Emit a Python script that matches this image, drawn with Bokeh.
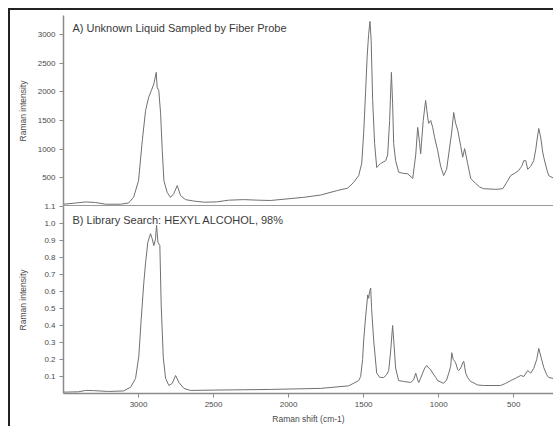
from bokeh.plotting import figure
from bokeh.layouts import column
from bokeh.models import Range1d, FixedTicker, Span, Label, PrintfTickFormatter
from bokeh.embed import file_html
from bokeh.resources import INLINE

# ---- data ----
wn_a = [3500, 3420, 3353, 3287, 3220, 3120, 3067, 3033, 3000, 2975, 2953, 2933,
        2915, 2898, 2882, 2876, 2865, 2853, 2842, 2831, 2809, 2787, 2765, 2742,
        2720, 2687, 2633, 2560, 2480, 2400, 2300, 2200, 2120, 1900, 1787, 1673,
        1607, 1567, 1533, 1513, 1500, 1487, 1477, 1467, 1458, 1450, 1440, 1427,
        1413, 1387, 1353, 1340, 1327, 1315, 1307, 1300, 1287, 1267, 1240, 1207,
        1173, 1153, 1140, 1127, 1120, 1103, 1087, 1073, 1067, 1053, 1040, 1027,
        1007, 987, 967, 947, 933, 913, 900, 887, 873, 853, 840, 827, 807, 787,
        753, 727, 700, 620, 573, 547, 520, 493, 467, 447, 433, 420, 407, 387,
        367, 353, 340, 333, 320, 307, 300, 280, 267, 233]
int_a = [40, 60, 80, 70, 40, 40, 60, 160, 450, 1150, 1675, 1900,
         2020, 2140, 2340, 2080, 2020, 1620, 980, 450, 245, 160, 225, 365,
         190, 120, 95, 75, 80, 110, 120, 110, 105, 160, 200, 280,
         320, 420, 540, 750, 1270, 2000, 2600, 3000, 3230, 2900, 1850, 1100,
         680, 750, 800, 900, 1500, 2340, 1800, 1100, 800, 600, 580, 570,
         490, 900, 1380, 1100, 920, 1500, 1850, 1550, 1450, 1500, 1380, 1200,
         980, 700, 540, 650, 920, 1300, 1640, 1450, 1330, 1050, 860, 1010, 750, 490,
         400, 340, 310, 300, 310, 420, 540, 580, 630, 700, 800, 800, 650, 700,
         800, 1000, 1250, 1360, 1200, 950, 860, 650, 540, 490]

wn_b = [3500, 3400, 3353, 3300, 3200, 3100, 3053, 3020, 2998, 2982, 2965, 2953,
        2938, 2920, 2909, 2898, 2887, 2880, 2871, 2858, 2849, 2835, 2820, 2798,
        2775, 2753, 2731, 2698, 2653, 2500, 2300, 2120, 1787, 1600, 1533, 1520,
        1507, 1500, 1487, 1473, 1467, 1460, 1453, 1447, 1433, 1413, 1393, 1367,
        1347, 1333, 1320, 1307, 1297, 1287, 1267, 1227, 1187, 1167, 1153, 1140,
        1133, 1120, 1107, 1093, 1080, 1067, 1053, 1040, 1020, 1007, 967, 947,
        933, 920, 913, 903, 893, 887, 873, 867, 853, 840, 833, 820, 807, 787,
        773, 740, 700, 587, 553, 520, 487, 453, 433, 407, 387, 367, 347, 333,
        320, 300, 280, 267, 233]
int_b = [0.008, 0.01, 0.018, 0.017, 0.012, 0.015, 0.037, 0.088, 0.22, 0.44, 0.65, 0.77,
         0.89, 0.94, 0.91, 0.87, 0.91, 0.99, 0.89, 0.87, 0.52, 0.21, 0.09, 0.047,
         0.06, 0.106, 0.065, 0.03, 0.018, 0.02, 0.022, 0.024, 0.03, 0.045, 0.076, 0.1,
         0.2, 0.31, 0.45, 0.58, 0.56, 0.6, 0.62, 0.5, 0.31, 0.12, 0.095, 0.094,
         0.11, 0.135, 0.25, 0.40, 0.28, 0.15, 0.076, 0.07, 0.065, 0.08, 0.12, 0.08,
         0.065, 0.09, 0.12, 0.15, 0.165, 0.15, 0.14, 0.12, 0.095, 0.076, 0.06, 0.08,
         0.12, 0.16, 0.24, 0.2, 0.19, 0.18, 0.14, 0.135, 0.15, 0.18, 0.19, 0.12, 0.094, 0.07,
         0.065, 0.05, 0.047, 0.047, 0.06, 0.076, 0.09, 0.106, 0.1, 0.135, 0.12, 0.147, 0.2, 0.265,
         0.22, 0.153, 0.11, 0.094, 0.088]

x_ticks = [3000, 2500, 2000, 1500, 1000, 500]
top_ticks = [500, 1000, 1500, 2000, 2500, 3000]
bottom_ticks = [0.1, 0.2, 0.3, 0.4, 0.5, 0.6, 0.7, 0.8, 0.9, 1.0, 1.1]
title_a = "A) Unknown Liquid Sampled by Fiber Probe"
title_b = "B) Library Search: HEXYL ALCOHOL, 98%"
x_label = "Raman shift (cm-1)"
y_label = "Raman intensity"

FONT = "Liberation Sans"
LINE = "#707070"
AXIS = "#8a8a8a"
TXT = "#4a4a4a"

xr = Range1d(3500, 235)


def style_axis(ax, size="8px"):
    ax.axis_line_color = AXIS
    ax.axis_line_width = 1.5
    ax.major_tick_line_color = AXIS
    ax.major_tick_out = 4
    ax.major_tick_in = 0
    ax.minor_tick_line_color = None
    ax.major_label_text_font = FONT
    ax.major_label_text_font_size = size
    ax.major_label_text_color = TXT
    ax.major_label_standoff = 4
    ax.axis_label_text_font = FONT
    ax.axis_label_text_font_size = "8.5px"
    ax.axis_label_text_font_style = "normal"
    ax.axis_label_text_color = TXT


top = figure(width=543, height=196, x_range=xr, y_range=Range1d(0, 3332),
             output_backend="svg", toolbar_location=None, x_axis_location=None,
             min_border_top=5, min_border_bottom=0, min_border_left=53,
             min_border_right=0)
top.line(wn_a, int_a, line_color=LINE, line_width=1)
top.yaxis.ticker = FixedTicker(ticks=top_ticks)
top.yaxis.axis_label = y_label
style_axis(top.yaxis[0])
top.yaxis.axis_label_standoff = 7
top.xgrid.visible = False
top.ygrid.visible = False
top.outline_line_color = None
top.add_layout(Span(location=0, dimension="width", line_color="#9a9a9a", line_width=3))
top.add_layout(Label(x=3440, y=3122, text=title_a, text_font=FONT,
                     text_font_size="11px", text_color="#3a3a3a",
                     text_baseline="middle"))

bot = figure(width=543, height=226, x_range=xr, y_range=Range1d(0, 1.1),
             output_backend="svg", toolbar_location=None,
             min_border_top=6, min_border_bottom=33, min_border_left=53,
             min_border_right=0, margin=(-6, 0, 0, 0))
bot.background_fill_alpha = 0
bot.border_fill_alpha = 0
bot.line(wn_b, int_b, line_color=LINE, line_width=1)
bot.yaxis.ticker = FixedTicker(ticks=bottom_ticks)
bot.yaxis.formatter = PrintfTickFormatter(format="%.1f")
bot.xaxis.ticker = FixedTicker(ticks=x_ticks)
bot.yaxis.axis_label = y_label
bot.xaxis.axis_label = x_label
style_axis(bot.yaxis[0])
style_axis(bot.xaxis[0])
bot.yaxis.axis_label_standoff = 13
bot.xaxis.axis_label_standoff = 4
bot.xgrid.visible = False
bot.ygrid.visible = False
bot.outline_line_color = None
bot.add_layout(Label(x=3440, y=1.0235, text=title_b, text_font=FONT,
                     text_font_size="11px", text_color="#3a3a3a",
                     text_baseline="middle"))

layout = column(top, bot, margin=(8, 0, 0, 8),
                styles={"border-left": "2px solid #222",
                        "border-top": "2px solid #222"})

with open("out.html", "w") as f:
    f.write(file_html(layout, INLINE))
